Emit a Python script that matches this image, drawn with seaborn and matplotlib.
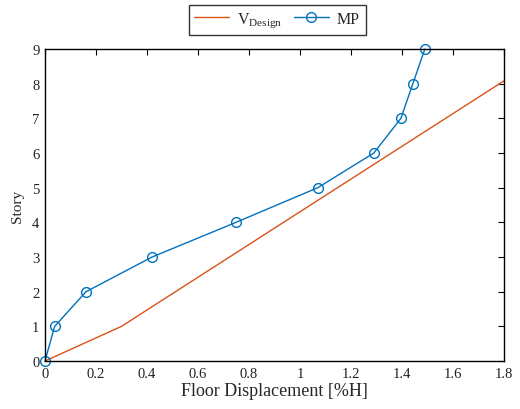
import matplotlib
matplotlib.use("Agg")
import matplotlib.pyplot as plt
import seaborn as sns
import pandas as pd

sns.set_theme(style="white")
plt.rcParams['font.family'] = ['Liberation Serif', 'DejaVu Serif']
plt.rcParams['mathtext.fontset'] = 'custom'
plt.rcParams['mathtext.rm'] = 'Liberation Serif'

design_x = [0.0, 0.3, 1.995]
design_story = [0, 1, 9]
mp_x = [0.0, 0.038, 0.161, 0.42, 0.749, 1.07, 1.29, 1.396, 1.443, 1.49]
mp_story = [0, 1, 2, 3, 4, 5, 6, 7, 8, 9]
xticks = [0, 0.2, 0.4, 0.6, 0.8, 1, 1.2, 1.4, 1.6, 1.8]
xticklabels = ['0', '0.2', '0.4', '0.6', '0.8', '1', '1.2', '1.4', '1.6', '1.8']
yticks = list(range(10))

df_d = pd.DataFrame({'x': design_x, 'y': design_story})
df_m = pd.DataFrame({'x': mp_x, 'y': mp_story})

fig = plt.figure(figsize=(5.2, 4.1), dpi=100)
ax = fig.add_axes([0.0865, 0.117, 0.8825, 0.761])

sns.lineplot(data=df_d, x='x', y='y', ax=ax, sort=False, color='#D95319',
             lw=1.0, label=r'V$_{\mathregular{Design}}$')
sns.lineplot(data=df_m, x='x', y='y', ax=ax, sort=False, color='#0072BD',
             lw=1.0, marker='o', markersize=7, markerfacecolor='none',
             markeredgecolor='#0072BD', markeredgewidth=1.0, label='MP',
             clip_on=False)

ax.set_xlim(0, 1.8)
ax.set_ylim(0, 9)
ax.set_xticks(xticks)
ax.set_xticklabels(xticklabels)
ax.set_yticks(yticks)
ax.tick_params(direction='in', length=4, width=0.8, top=True, right=True,
               labelsize=10.5, colors='black', pad=4)
ax.tick_params(axis='both', labelcolor='#222222')
for s in ax.spines.values():
    s.set_visible(True)
    s.set_color('black')
    s.set_linewidth(1.0)

ax.set_xlabel('Floor Displacement [%H]', fontsize=13, labelpad=2)
ax.set_ylabel('Story', fontsize=11, labelpad=6)

leg = ax.legend(loc='center', bbox_to_anchor=(0.533, 0.949),
                bbox_transform=fig.transFigure, ncol=2, frameon=True,
                fancybox=False, edgecolor='black', fontsize=11.5,
                handlelength=2.2, handletextpad=0.5, columnspacing=0.7,
                borderpad=0.35, borderaxespad=0)
leg.get_frame().set_linewidth(1.0)

fig.savefig('out.png', dpi=100)
